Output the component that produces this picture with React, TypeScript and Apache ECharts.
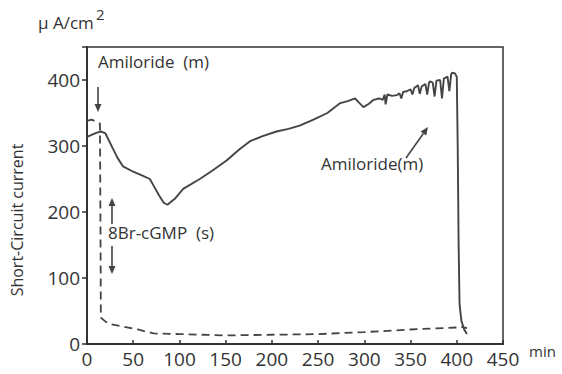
import React, { useEffect, useRef } from "react";
import * as echarts from "echarts";

const xTicks = [0, 50, 100, 150, 200, 250, 300, 350, 400, 450];
const yTicks = [0, 100, 200, 300, 400];

// Solid trace (min, µA/cm²)
const solidTime = [0, 5, 10, 15, 20, 28, 33, 39, 50, 60, 68, 72, 78, 83, 87, 95, 104, 122, 135, 151, 165, 176, 190, 205, 218, 230, 245, 260, 274, 282, 290, 294, 299, 305, 310, 316, 320, 322, 323, 325, 330, 335, 338, 340, 342, 346, 350, 352, 354, 358, 360, 362, 366, 368, 370, 371, 374, 376, 378, 382, 384, 386, 390, 392, 394, 395, 398, 400, 401, 402, 403, 405, 408, 411];
const solidValue = [314, 317, 320, 322, 319, 296, 282, 269, 261, 255, 250, 240, 225, 214, 211, 220, 235, 250, 262, 278, 295, 307, 315, 322, 326, 331, 340, 350, 365, 368, 372, 366, 359, 364, 370, 372, 370, 378, 363, 378, 376, 377, 380, 372, 382, 383, 386, 378, 388, 392, 379, 390, 394, 378, 396, 398, 396, 375, 399, 400, 372, 402, 405, 383, 409, 411, 410, 405, 300, 150, 60, 35, 22, 15];

// Dashed trace
const dashTime = [0, 5, 10, 14, 14.5, 15, 20, 25, 40, 55, 72, 100, 150, 200, 250, 300, 350, 400, 405, 411];
const dashValue = [338, 340, 337, 334, 200, 40, 34, 30, 26, 22, 16, 15, 13, 14, 15, 18, 22, 25, 26, 24];

const FONT = "'Open Sans', 'DejaVu Sans', sans-serif";
const TXT = "#333";
const LINE = "#444";

function arrow(x1: number, y1: number, x2: number, y2: number) {
  const dx = x2 - x1;
  const dy = y2 - y1;
  const len = Math.sqrt(dx * dx + dy * dy);
  const ux = dx / len;
  const uy = dy / len;
  const hl = 8;
  const hw = 3.5;
  const bx = x2 - ux * hl;
  const by = y2 - uy * hl;
  return [
    { type: "line", shape: { x1, y1, x2: bx, y2: by }, style: { stroke: LINE, lineWidth: 1.6 } },
    {
      type: "polygon",
      shape: { points: [[x2, y2], [bx - uy * hw, by + ux * hw], [bx + uy * hw, by - ux * hw]] },
      style: { fill: LINE },
    },
  ];
}

export default function App() {
  const ref = useRef<HTMLDivElement>(null);
  useEffect(() => {
    document.body.style.margin = "0";
    if (!ref.current) return;
    const chart = echarts.init(ref.current, undefined, { renderer: "svg" });
    const solid = solidTime.map((t, i) => [t, solidValue[i]]);
    const dashed = dashTime.map((t, i) => [t, dashValue[i]]);
    chart.setOption({
      animation: false,
      backgroundColor: "#fff",
      grid: { left: 87, right: 59, top: 47, bottom: 30, show: true, borderColor: "#333", borderWidth: 1.5, backgroundColor: "transparent" },
      xAxis: {
        type: "value",
        min: 0,
        max: 450,
        interval: 50,
        axisLine: { show: true, lineStyle: { color: "#333", width: 2 } },
        axisTick: { show: true, inside: true, length: 4, lineStyle: { color: "#333", width: 1.5 } },
        axisLabel: {
          color: TXT,
          fontFamily: FONT,
          fontSize: 19,
          margin: 5,
          formatter: (v: number) => (xTicks.includes(v) ? String(v) : ""),
        },
        splitLine: { show: false },
      },
      yAxis: {
        type: "value",
        min: 0,
        max: 450,
        interval: 100,
        axisLine: { show: true, lineStyle: { color: "#333", width: 2 } },
        axisTick: { show: true, length: 5, lineStyle: { color: "#333", width: 1.5 } },
        axisLabel: {
          color: TXT,
          fontFamily: FONT,
          fontSize: 19,
          margin: 7,
          formatter: (v: number) => (yTicks.includes(v) ? String(v) : ""),
        },
        splitLine: { show: false },
      },
      series: [
        {
          type: "line",
          data: dashed,
          symbol: "none",
          lineStyle: { color: LINE, width: 1.8, type: [8, 5] },
        },
        {
          type: "line",
          data: solid,
          symbol: "none",
          lineStyle: { color: LINE, width: 1.9 },
        },
      ],
      graphic: [
        { type: "text", left: 38, top: 14, style: { text: "μ A/cm", fill: TXT, font: `17px ${FONT}` } },
        { type: "text", left: 96, top: 6, style: { text: "2", fill: TXT, font: `15px ${FONT}` } },
        { type: "text", left: 98, top: 53, style: { text: "Amiloride  (m)", fill: TXT, font: `17px ${FONT}` } },
        { type: "text", left: 108, top: 224, style: { text: "8Br-cGMP  (s)", fill: TXT, font: `17px ${FONT}` } },
        { type: "text", left: 321, top: 155, style: { text: "Amiloride(m)", fill: TXT, font: `17px ${FONT}` } },
        { type: "text", left: 529, top: 343, style: { text: "min", fill: TXT, font: `15px ${FONT}` } },
        {
          type: "text",
          x: 17,
          y: 220,
          rotation: Math.PI / 2,
          style: { text: "Short-Circuit current", fill: TXT, font: `16px ${FONT}`, align: "center", verticalAlign: "middle" },
        },
        ...arrow(98, 87, 98, 112),
        ...arrow(112, 224, 112, 198),
        ...arrow(112, 246, 112, 274),
        ...arrow(406, 158, 428, 127),
      ],
    });
    return () => chart.dispose();
  }, []);
  return <div ref={ref} style={{ width: 562, height: 374 }} />;
}
